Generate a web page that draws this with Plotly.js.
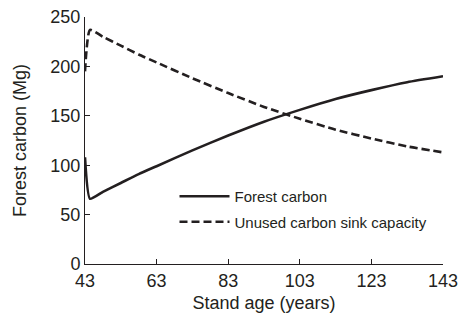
<!DOCTYPE html>
<html>
<head>
<meta charset="utf-8">
<script src="https://cdn.plot.ly/plotly-3.0.1.min.js"></script>
<style>html,body{margin:0;padding:0;background:#fff;}#chart{width:463px;height:324px;}</style>
</head>
<body>
<div id="chart"></div>
<script>
const standAge = [43, 44.4, 48, 53, 58, 63, 73, 83, 93, 103, 113, 123, 133, 143];
const forestCarbon = [108, 66, 73, 82, 91, 99, 115, 130, 144, 156, 167, 176, 184, 190];
const sinkAge = [43, 44.4, 48, 53, 58, 63, 73, 83, 93, 103, 113, 123, 133, 143];
const unusedSink = [195, 237, 230, 221, 212, 204, 188, 173, 159, 147, 136, 127, 119, 113];
const seriesNames = ["Forest carbon", "Unused carbon sink capacity"];
const xTicks = [43, 63, 83, 103, 123, 143];
const yTicks = [0, 50, 100, 150, 200, 250];

const font = {family: "Liberation Sans, Arial, sans-serif", color: "#231f20"};
const traces = [
  {x: standAge, y: forestCarbon, name: seriesNames[0], mode: "lines", legendgroup: "a",
   line: {color: "#231f20", width: 2.6, shape: "spline", smoothing: 0.5}},
  {x: sinkAge, y: unusedSink, name: seriesNames[1], mode: "lines", legendgroup: "b",
   line: {color: "#231f20", width: 2.6, dash: "8px,4px", shape: "spline", smoothing: 0.5}}
];
const layout = {
  width: 463, height: 324,
  margin: {l: 85, r: 20, t: 17, b: 60},
  paper_bgcolor: "#fff", plot_bgcolor: "#fff",
  font: Object.assign({size: 18}, font),
  showlegend: true,
  legend: {x: 0.25, y: 0.34, xanchor: "left", yanchor: "top",
           font: Object.assign({size: 15}, font), bgcolor: "rgba(0,0,0,0)",
           traceorder: "grouped", tracegroupgap: 3, itemwidth: 50},
  xaxis: {range: [43, 143], tickvals: xTicks, ticktext: xTicks.map(String),
          ticks: "inside", ticklen: 5, tickcolor: "#231f20", showline: true,
          linecolor: "#231f20", linewidth: 1, showgrid: false, zeroline: false,
          tickfont: Object.assign({size: 18}, font),
          title: {text: "Stand age (years)", font: Object.assign({size: 18}, font), standoff: 6}},
  yaxis: {range: [0, 250], tickvals: yTicks, ticktext: yTicks.map(String),
          ticks: "inside", ticklen: 5, tickcolor: "#231f20", showline: true,
          linecolor: "#231f20", linewidth: 1, showgrid: false, zeroline: false,
          tickfont: Object.assign({size: 18}, font),
          title: {text: "Forest carbon (Mg)", font: Object.assign({size: 18}, font), standoff: 19}}
};
Plotly.newPlot("chart", traces, layout, {displayModeBar: false, staticPlot: true});
</script>
</body>
</html>
